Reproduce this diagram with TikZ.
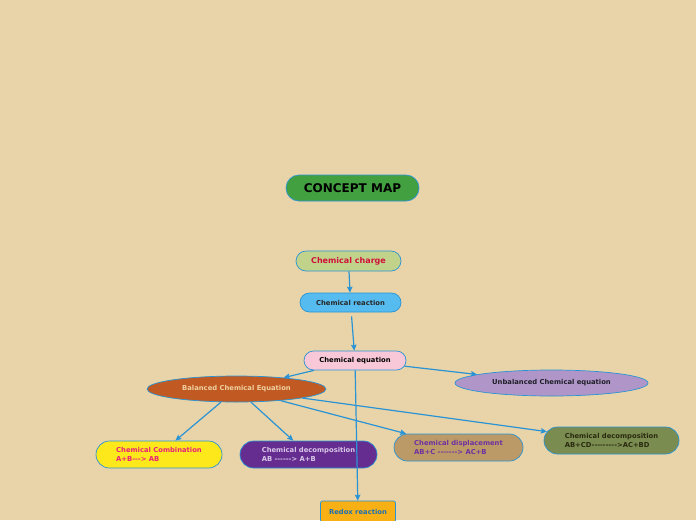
\documentclass[tikz,border=0pt]{standalone}
\usepackage{xcolor}
\usepackage{fontspec}
\setmainfont{DejaVu Sans}[Ligatures=TeXOff]
\usepackage{tikz}
\usetikzlibrary{shapes,arrows,arrows.meta,positioning,fit,backgrounds}

\definecolor{paper}{RGB}{232,212,168}
\definecolor{linkblue}{RGB}{42,147,213}

\begin{document}
\begin{tikzpicture}[
    x=1pt, y=-1pt,
    box/.style={rounded rectangle, draw=linkblue, line width=0.7pt, inner sep=1pt, align=center, font=\bfseries\fontsize{6.8}{8.2}\selectfont},
    twoline/.style={box, align=left, minimum height=27pt},
    oval/.style={ellipse, draw=linkblue, line width=0.7pt, inner sep=0pt, minimum height=26pt, font=\bfseries\fontsize{6.8}{8.2}\selectfont},
    arrow/.style={->, >={Stealth[length=6pt,width=5.5pt,inset=1pt]}, draw=linkblue, line width=1.2pt}
]
\useasboundingbox (0,0) rectangle (696,520);
\fill[paper] (0,0) rectangle (696,520);

% Title
\node[box, fill={rgb,255:red,67;green,160;blue,64}, minimum width=135pt, minimum height=26pt, font=\bfseries\fontsize{12}{14}\selectfont] (title) at (352.5,188) {CONCEPT MAP};

% Main chain
\node[box, fill={rgb,255:red,193;green,211;blue,139}, text={rgb,255:red,208;green,16;blue,58}, minimum width=107pt, minimum height=20pt, font=\bfseries\fontsize{8}{9}\selectfont] (charge) at (348.5,261) {Chemical charge};
\node[box, fill={rgb,255:red,86;green,187;blue,238}, text={rgb,255:red,40;green,40;blue,40}, minimum width=103pt, minimum height=19pt] (reaction) at (350.5,302.5) {Chemical reaction};
\node[box, fill={rgb,255:red,248;green,200;blue,216}, minimum width=104pt, minimum height=19pt] (equation) at (355,360.5) {Chemical equation};

% Equations
\node[oval, fill={rgb,255:red,192;green,90;blue,34}, text={rgb,255:red,240;green,208;blue,160}, minimum width=179pt] (balanced) at (236.5,389) {Balanced Chemical Equation};
\node[oval, fill={rgb,255:red,176;green,150;blue,200}, text={rgb,255:red,30;green,30;blue,40}, minimum width=193pt] (unbalanced) at (551.5,383) {Unbalanced Chemical equation};

% Reaction types
\node[twoline, fill={rgb,255:red,253;green,232;blue,28}, text={rgb,255:red,232;green,32;blue,122}, minimum width=128pt] (combination) at (159,454.5) {Chemical Combination\\A+B---> AB};
\node[twoline, fill={rgb,255:red,102;green,45;blue,145}, text={rgb,255:red,216;green,200;blue,232}, minimum width=139pt] (decompA) at (308.5,454.5) {Chemical decomposition\\AB ------> A+B};
\node[twoline, fill={rgb,255:red,188;green,154;blue,104}, text={rgb,255:red,112;green,48;blue,160}, minimum width=131pt] (displacement) at (458.5,447.5) {Chemical displacement\\AB+C -------> AC+B};
\node[twoline, fill={rgb,255:red,122;green,140;blue,80}, text={rgb,255:red,42;green,42;blue,16}, minimum width=137pt] (decompB) at (611.5,440.5) {Chemical decomposition\\AB+CD--------->AC+BD};
\node[box, rectangle, rounded corners=2pt, fill={rgb,255:red,248;green,176;blue,20}, text={rgb,255:red,30;green,112;blue,176}, minimum width=75pt, minimum height=21pt] (redox) at (358,511.5) {Redox reaction};

% Arrows
\draw[arrow] (charge) -- (reaction);
\draw[arrow, shorten <=4pt] (reaction) -- (equation);
\draw[arrow] (equation) -- (balanced);
\draw[arrow] (equation) -- (unbalanced);
\draw[arrow] (equation) -- (redox);
\draw[arrow] (balanced) -- (combination);
\draw[arrow] (balanced) -- (decompA);
\draw[arrow] (balanced) -- (displacement);
\draw[arrow] (balanced) -- (decompB);

\end{tikzpicture}
\end{document}
